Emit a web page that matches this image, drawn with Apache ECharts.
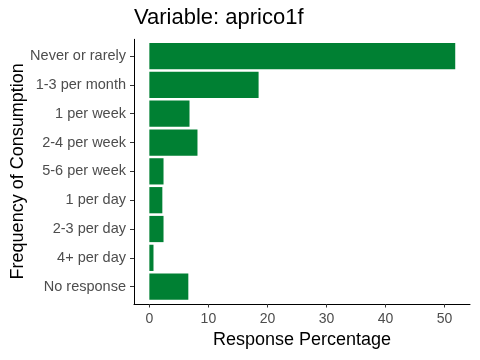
<!DOCTYPE html>
<html><head><meta charset="utf-8">
<script src="https://cdn.jsdelivr.net/npm/echarts@6/dist/echarts.min.js"></script>
<style>html,body{margin:0;padding:0;background:#fff}#c{width:480px;height:360px}</style>
</head><body><div id="c"></div>
<script>
const categories = ['Never or rarely','1-3 per month','1 per week','2-4 per week','5-6 per week','1 per day','2-3 per day','4+ per day','No response'];
const values = [51.8, 18.5, 6.8, 8.15, 2.4, 2.2, 2.4, 0.7, 6.6];
const xTicks = [0, 10, 20, 30, 40, 50];
const FONT = 'Liberation Sans, Arial, sans-serif';
const chart = echarts.init(document.getElementById('c'), null, {renderer: 'canvas'});
chart.setOption({
  animation: false,
  backgroundColor: '#fff',
  title: {text: 'Variable: aprico1f', left: 129, top: 2,
    textStyle: {fontFamily: FONT, fontSize: 22, fontWeight: 'normal', color: '#000'}},
  grid: [
    {left: 134, right: 10, top: 41.6, bottom: 58.9, containLabel: false, outerBoundsMode: 'none'},
    {left: 134, right: 10, top: 39.3, bottom: 56, containLabel: false, outerBoundsMode: 'none'}
  ],
  xAxis: [
    {gridIndex: 0, type: 'value', min: -2.6, max: 54.3, show: false, splitLine: {show: false}},
    {gridIndex: 1, type: 'value', min: -2.6, max: 54.3,
      name: 'Response Percentage', nameLocation: 'middle', nameGap: 27,
      nameTextStyle: {fontFamily: FONT, fontSize: 18, color: '#000'},
      axisLine: {show: true, onZero: false, lineStyle: {color: '#000', width: 1}},
      axisTick: {show: true, length: 3.5, customValues: xTicks, lineStyle: {color: '#333'}},
      axisLabel: {customValues: xTicks, margin: 8, fontFamily: FONT, fontSize: 14, color: '#4D4D4D'},
      splitLine: {show: false}}
  ],
  yAxis: [
    {gridIndex: 0, type: 'category', data: categories, inverse: true,
      name: 'Frequency of Consumption', nameLocation: 'middle', nameGap: 107, nameMoveOverlap: false,
      nameTextStyle: {fontFamily: FONT, fontSize: 18, color: '#000'},
      axisLine: {show: false, onZero: false},
      axisTick: {show: true, alignWithLabel: true, length: 4, lineStyle: {color: '#333', width: 1}},
      axisLabel: {margin: 8, fontFamily: FONT, fontSize: 14.5, color: '#4D4D4D'}},
    {gridIndex: 1, type: 'value', min: 0, max: 1,
      axisLine: {show: true, onZero: false, lineStyle: {color: '#000', width: 1}},
      axisTick: {show: false}, axisLabel: {show: false}, splitLine: {show: false}}
  ],
  series: [{
    type: 'bar', xAxisIndex: 0, yAxisIndex: 0, data: values,
    barCategoryGap: '9%', itemStyle: {color: '#008033'}
  }]
});
</script></body></html>
